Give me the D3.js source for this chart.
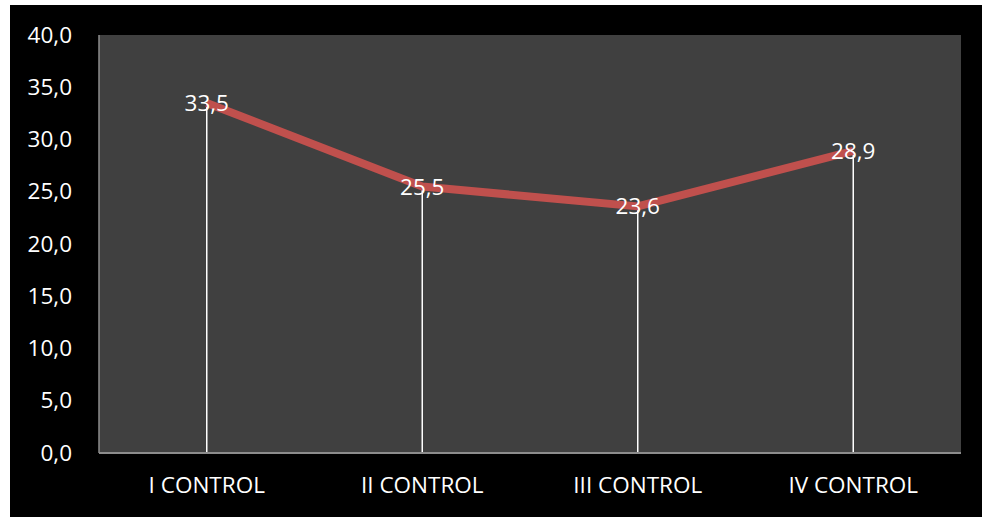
<!DOCTYPE html>
<html>
<head>
<meta charset="utf-8">
<script src="https://cdn.jsdelivr.net/npm/d3@7"></script>
<style>
  html, body { margin: 0; padding: 0; background: #ffffff; }
  svg { display: block; }
</style>
</head>
<body>
<svg id="chart" width="982" height="517"></svg>
<script>
// Measurements per control round
const categories = ["I CONTROL", "II CONTROL", "III CONTROL", "IV CONTROL"];
const values = [33.5, 25.5, 23.6, 28.9];
const yTicks = [0, 5, 10, 15, 20, 25, 30, 35, 40];

const W = 982, H = 517;
const frame = { left: 10, top: 5 };
const plot = { left: 99, top: 35, right: 961, bottom: 453 };
const font = "'Open Sans', 'Noto Sans', sans-serif";
const fmt = v => d3.format(".1f")(v).replace(".", ",");

const svg = d3.select("#chart");

// black chart frame
svg.append("rect")
  .attr("x", frame.left).attr("y", frame.top)
  .attr("width", W - frame.left).attr("height", H - frame.top)
  .attr("fill", "#000000");

// plot background
svg.append("rect")
  .attr("x", plot.left).attr("y", plot.top)
  .attr("width", plot.right - plot.left).attr("height", plot.bottom - plot.top)
  .attr("fill", "#404040");

const x = d3.scaleBand().domain(categories).range([plot.left, plot.right]);
const y = d3.scaleLinear().domain([0, 40]).range([plot.bottom, plot.top]);
const cx = c => x(c) + x.bandwidth() / 2;

// y axis labels
const yAxis = svg.append("g")
  .attr("transform", `translate(${plot.left},0)`)
  .call(d3.axisLeft(y).tickValues(yTicks).tickFormat(fmt).tickSize(0).tickPadding(27));
yAxis.select(".domain").remove();
yAxis.selectAll("text")
  .attr("fill", "#ffffff")
  .style("font-family", font)
  .style("font-size", "22.5px");

// x axis labels
const xAxis = svg.append("g")
  .attr("transform", `translate(0,${plot.bottom})`)
  .call(d3.axisBottom(x).tickSize(0).tickPadding(24));
xAxis.select(".domain").remove();
xAxis.selectAll("text")
  .attr("fill", "#ffffff")
  .style("font-family", font)
  .style("font-size", "22.5px");

// axis lines
svg.append("line")
  .attr("x1", plot.left).attr("x2", plot.left)
  .attr("y1", plot.top).attr("y2", plot.bottom)
  .attr("stroke", "#8c8c8c").attr("stroke-width", 1.5);
svg.append("line")
  .attr("x1", plot.left).attr("x2", plot.right)
  .attr("y1", plot.bottom).attr("y2", plot.bottom)
  .attr("stroke", "#8c8c8c").attr("stroke-width", 2);

// drop lines from each point to the category axis
svg.append("g").selectAll("line")
  .data(values)
  .join("line")
  .attr("x1", (d, i) => cx(categories[i]))
  .attr("x2", (d, i) => cx(categories[i]))
  .attr("y1", d => y(d))
  .attr("y2", plot.bottom - 1)
  .attr("stroke", "#ffffff").attr("stroke-width", 1.5);

// series line
const line = d3.line()
  .x((d, i) => cx(categories[i]))
  .y(d => y(d));
svg.append("path")
  .datum(values)
  .attr("d", line)
  .attr("fill", "none")
  .attr("stroke", "#c0504d")
  .attr("stroke-width", 8)
  .attr("stroke-linejoin", "round")
  .attr("stroke-linecap", "butt");

// value labels centred on each point
svg.append("g").selectAll("text")
  .data(values)
  .join("text")
  .attr("x", (d, i) => cx(categories[i]))
  .attr("y", d => y(d))
  .attr("dy", "0.36em")
  .attr("text-anchor", "middle")
  .attr("fill", "#ffffff")
  .style("font-family", font)
  .style("font-size", "22.5px")
  .text(fmt);
</script>
</body>
</html>
